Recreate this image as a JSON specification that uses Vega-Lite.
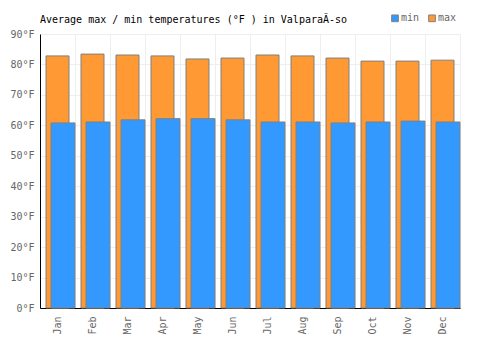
{
  "$schema": "https://vega.github.io/schema/vega-lite/v6.json",
  "width": 420,
  "height": 274,
  "autosize": {"type": "none"},
  "padding": {"left": 40, "top": 34, "right": 40, "bottom": 42},
  "background": "white",
  "title": {
    "text": "Average max / min temperatures (°F ) in ValparaÃ-so",
    "anchor": "start",
    "frame": "group",
    "font": "DejaVu Sans Mono",
    "fontSize": 10,
    "fontWeight": "normal",
    "color": "#000000",
    "offset": -12
  },
  "config": {
    "view": {"stroke": "#eeeeee"},
    "font": "DejaVu Sans Mono"
  },
  "data": {
    "values": [
      {"month": "Jan", "series": "max", "temp": 82.8},
      {"month": "Feb", "series": "max", "temp": 83.4},
      {"month": "Mar", "series": "max", "temp": 83.1},
      {"month": "Apr", "series": "max", "temp": 82.8},
      {"month": "May", "series": "max", "temp": 81.8},
      {"month": "Jun", "series": "max", "temp": 82.1},
      {"month": "Jul", "series": "max", "temp": 83.1},
      {"month": "Aug", "series": "max", "temp": 82.8},
      {"month": "Sep", "series": "max", "temp": 82.1},
      {"month": "Oct", "series": "max", "temp": 81.1},
      {"month": "Nov", "series": "max", "temp": 81.1},
      {"month": "Dec", "series": "max", "temp": 81.4},
      {"month": "Jan", "series": "min", "temp": 60.8},
      {"month": "Feb", "series": "min", "temp": 61.1},
      {"month": "Mar", "series": "min", "temp": 61.8},
      {"month": "Apr", "series": "min", "temp": 62.2},
      {"month": "May", "series": "min", "temp": 62.2},
      {"month": "Jun", "series": "min", "temp": 61.8},
      {"month": "Jul", "series": "min", "temp": 61.1},
      {"month": "Aug", "series": "min", "temp": 61.1},
      {"month": "Sep", "series": "min", "temp": 60.8},
      {"month": "Oct", "series": "min", "temp": 61.1},
      {"month": "Nov", "series": "min", "temp": 61.4},
      {"month": "Dec", "series": "min", "temp": 61.1}
    ]
  },
  "encoding": {
    "x": {
      "field": "month",
      "type": "nominal",
      "sort": null,
      "scale": {"paddingInner": 0, "paddingOuter": 0},
      "axis": {
        "title": null,
        "bandPosition": 0,
        "labelAngle": 270,
        "labelAlign": "right",
        "labelBaseline": "middle",
        "labelColor": "#666666",
        "labelFontSize": 10,
        "labelPadding": 8,
        "ticks": false,
        "grid": true,
        "gridColor": "#eeeeee",
        "domainColor": "#000000",
        "domainWidth": 1
      }
    },
    "y": {
      "field": "temp",
      "type": "quantitative",
      "scale": {"domain": [0, 90], "nice": false},
      "axis": {
        "title": null,
        "values": [0, 10, 20, 30, 40, 50, 60, 70, 80, 90],
        "labelExpr": "datum.value + '°F'",
        "labelColor": "#666666",
        "labelFontSize": 10,
        "labelPadding": 6,
        "ticks": false,
        "grid": true,
        "gridColor": "#eeeeee",
        "domainColor": "#000000",
        "domainWidth": 1
      }
    },
    "color": {
      "field": "series",
      "type": "nominal",
      "scale": {"domain": ["min", "max"], "range": ["#3399ff", "#ff9933"]},
      "legend": {
        "title": null,
        "orient": "none",
        "direction": "horizontal",
        "legendX": 350,
        "legendY": -21,
        "symbolType": "square",
        "symbolSize": 45,
        "symbolStrokeColor": "#808080",
        "symbolStrokeWidth": 1,
        "symbolOpacity": 1,
        "labelColor": "#666666",
        "labelFontSize": 10,
        "labelOffset": 1,
        "columnPadding": 6
      }
    }
  },
  "layer": [
    {
      "transform": [{"filter": "datum.series == 'max'"}],
      "mark": {"type": "bar", "width": 23, "stroke": "#808080", "strokeWidth": 1, "opacity": 1}
    },
    {
      "transform": [{"filter": "datum.series == 'min'"}],
      "mark": {"type": "bar", "width": 24, "xOffset": 5.5, "stroke": "#808080", "strokeWidth": 1, "opacity": 1}
    }
  ]
}
